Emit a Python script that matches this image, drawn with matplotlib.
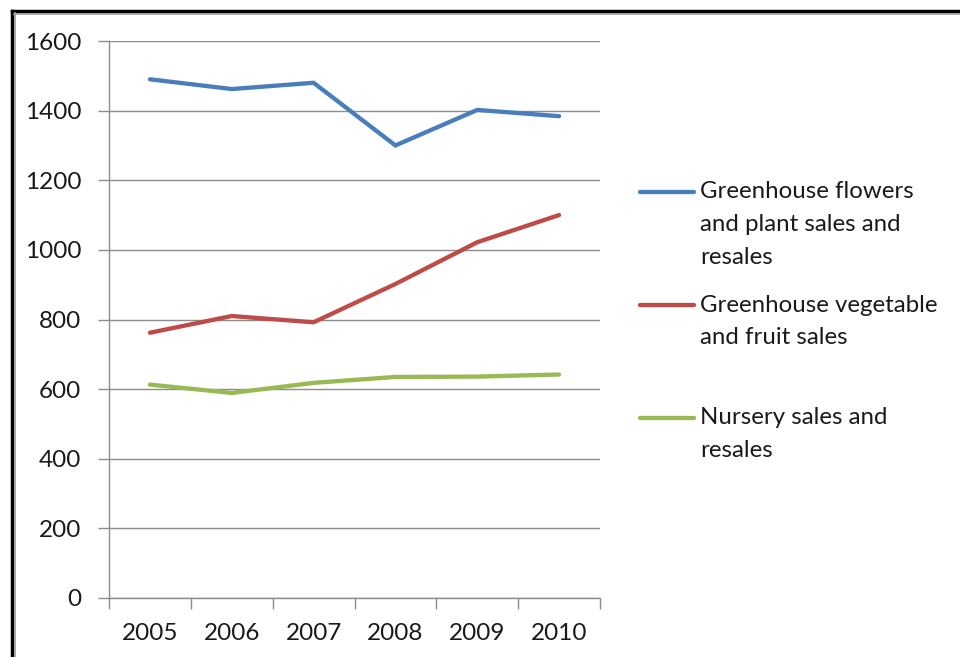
import matplotlib
matplotlib.use("Agg")
import matplotlib.pyplot as plt
from matplotlib.lines import Line2D

plt.rcParams['font.family'] = ['Lato', 'DejaVu Sans']

years = ['2005', '2006', '2007', '2008', '2009', '2010']
flowers = [1490, 1462, 1480, 1300, 1402, 1384]
vegetables = [762, 810, 792, 902, 1022, 1100]
nursery = [613, 589, 618, 635, 636, 642]
series_labels = ['Greenhouse flowers\nand plant sales and\nresales',
                 'Greenhouse vegetable\nand fruit sales',
                 'Nursery sales and\nresales']
colors = ['#4A7EBB', '#BE4B48', '#98B954']
yticks = [0, 200, 400, 600, 800, 1000, 1200, 1400, 1600]

W, H = 960, 657
fig = plt.figure(figsize=(W / 100, H / 100), dpi=100)
ax = fig.add_axes([109 / W, 1 - 598 / H, (600 - 109) / W, (598 - 41) / H])

x = list(range(len(years)))
for vals, c in zip([flowers, vegetables, nursery], colors):
    ax.plot(x, vals, color=c, lw=3.1, solid_capstyle='round', solid_joinstyle='miter', zorder=3)

grid_c = '#8C8C8C'
ax.set_xlim(-0.5, len(years) - 0.5)
ax.set_ylim(0, 1600)
ax.set_yticks(yticks)
ax.set_yticklabels([str(v) for v in yticks])
ax.yaxis.grid(True, color=grid_c, lw=1.0)
ax.set_axisbelow(True)
ax.set_xticks([i - 0.5 for i in range(len(years) + 1)])
ax.set_xticklabels([])
ax.set_xticks(x, minor=True)
ax.set_xticklabels(years, minor=True)
ax.tick_params(axis='x', which='major', length=8, width=1, color=grid_c, direction='out')
ax.tick_params(axis='x', which='minor', length=0, pad=18, labelsize=17.5, labelcolor='#1a1a1a')
ax.tick_params(axis='y', length=8, width=1, color=grid_c, pad=12, labelsize=17.5, labelcolor='#1a1a1a')
for s in ['top', 'right']:
    ax.spines[s].set_visible(False)
for s in ['left', 'bottom']:
    ax.spines[s].set_color(grid_c)
    ax.spines[s].set_linewidth(1.0)

# Legend drawn manually to match the original layout
first_line_y = [192, 305, 418]
line_gap = 32.5
for lab, c, y0 in zip(series_labels, colors, first_line_y):
    fy = 1 - y0 / H
    fig.add_artist(Line2D([640 / W, 694 / W], [fy, fy], color=c, lw=3.1,
                          solid_capstyle='round', transform=fig.transFigure))
    for k, line in enumerate(lab.split('\n')):
        fig.text(700 / W, 1 - (y0 + k * line_gap) / H, line, fontsize=17.3,
                 color='#1a1a1a', va='center', ha='left')

# Outer frame (left and top edges visible)
fig.add_artist(Line2D([11.5 / W, 11.5 / W], [0, 1 - 11 / H], color='black', lw=2.5,
                      transform=fig.transFigure))
fig.add_artist(Line2D([11.5 / W, 1], [1 - 11 / H, 1 - 11 / H], color='black', lw=2.5,
                      transform=fig.transFigure))
fig.add_artist(Line2D([14.5 / W, 14.5 / W], [0, 1 - 13 / H], color='#9a9a9a', lw=1.2,
                      transform=fig.transFigure))
fig.add_artist(Line2D([14 / W, 1], [1 - 13.5 / H, 1 - 13.5 / H], color='#9a9a9a', lw=1.2,
                      transform=fig.transFigure))

fig.savefig('out.png', dpi=100)
